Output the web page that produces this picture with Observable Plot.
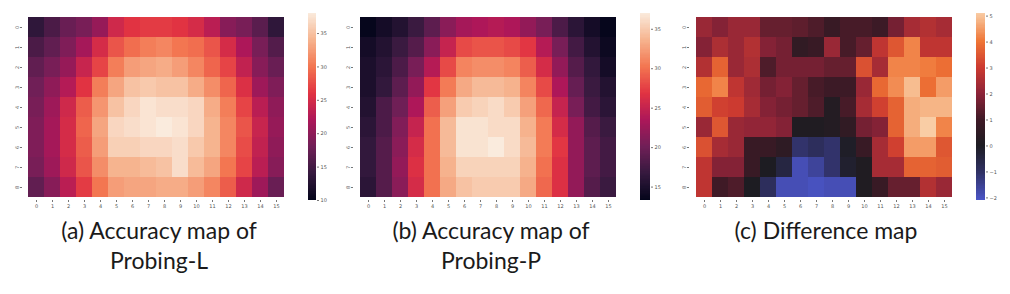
<!DOCTYPE html>
<html><head><meta charset="utf-8">
<script src="https://cdn.jsdelivr.net/npm/d3@7"></script>
<script src="https://cdn.jsdelivr.net/npm/@observablehq/plot@0.6"></script>
<style>
body{margin:0;background:#fff}
#root{position:relative;width:1010px;height:294px;overflow:hidden;background:#fff}
.abs{position:absolute;top:0}
.abs svg{overflow:visible;display:block}
.cap{position:absolute;font-family:Lato,"Open Sans",sans-serif;font-size:23px;color:#1a1a1a;text-align:center;line-height:30px;width:300px}
</style>
</head><body><div id="root"></div>
<script>
// categories
const cols = [0,1,2,3,4,5,6,7,8,9,10,11,12,13,14,15];
const rows = [0,1,2,3,4,5,6,7,8];

// (a) Accuracy map of Probing-L  (row-major, rows 0..8)
const accL = [
  [13.5,15.5,17.5,18.5,20.5,24.5,26,26.5,26.5,26,25,23,19.5,18.5,16.5,13.5],
  [15.5,17,19,21.5,25,28,29.5,30.5,31,30,29.5,28,25,22,18.5,16],
  [17,18.5,20.5,24,27,30.5,32.5,33,33.5,32.5,31,29,27,23.5,19.5,17.5],
  [18,20,22.5,26,30.5,33,35,35.5,35,35,33.5,31.5,29,25.5,21,19],
  [18.5,21,24.5,28.5,32,35,36.5,37.5,37,37,36.5,33.5,30.5,27,23,20],
  [19,21.5,25,29,33,36.5,37,37.5,38,37.5,36.5,34,31,28,24,20.5],
  [19,21.5,25,28.5,32.5,36,36,36.5,36.5,37,35.5,34,31,27.5,23.5,20],
  [18.5,21,24.5,28,31.5,34,34,34.5,35,37,34.5,33,30,27,23,19.5],
  [17,19.5,23,26.5,30,32.5,33,33,33.5,33.5,32.5,31,28.5,24.5,21,17.5]
];
// (b) Accuracy map of Probing-P
const accP = [
  [13.5,14.5,15.5,17,19,21.5,23,23.5,24,23.5,22,20.5,18,16,14.5,13.5],
  [14.5,15.5,17,18.5,21.5,25,28,28.5,28.5,28,27,24,20.5,17.5,15.5,14],
  [15,16,18,20.5,24,28,31,31.5,31.5,31,29,26,22,18.5,16.5,14.5],
  [15,16.5,19,22,27,30.5,33,34,34,33.5,31,28,23.5,19.5,17,15.5],
  [15.5,18,20,23.5,29,32.5,35,35.5,36,35,32.5,29.5,25,20.5,17.5,16],
  [16,18,21,25,30,34,36.5,36.5,36,36,33.5,30.5,26,22,18.5,17],
  [16.5,18.5,21.5,26,30,34,36.5,36.5,37,36,34,30.5,27,22,19,17.5],
  [16.5,18.5,22,26.5,30,33.5,35.5,35.5,35.5,35.5,33.5,30,26.5,22,19,17.5],
  [16,18.5,21.5,26,30,33,34.5,35,35,35,33,29.5,26.5,22,18.5,17]
];
// (c) Difference map
const diff = [
  [2.2,1.9,2.2,2.2,1.5,1.5,1.4,1.2,0.8,1.1,1.1,0.9,1.7,2.4,2.6,2.4],
  [1.9,2.5,2.2,2.6,1.9,1.7,0.6,0.8,2.2,1.1,1.5,2.8,3.5,4.2,2.8,2.8],
  [2.6,3.7,2.2,2.5,1.2,1.7,1.7,1.7,1.5,1.5,3.4,2.4,4.2,4.2,4.1,3.9],
  [3.8,4.2,2.8,2.3,1.7,1.9,1.5,1.1,0.9,0.9,2.2,3.8,4.3,4.9,3.9,4.5],
  [3.6,3.1,3.0,2.4,1.9,1.7,1.5,1.2,0.2,1.1,2.4,3.1,3.7,4.7,4.8,4.8],
  [2.2,3.5,2.2,2.1,2.1,1.9,0.1,0.1,0.2,0.6,1.7,1.9,3.7,4.7,5.1,4.2],
  [3.4,2.4,2.2,0.8,0.8,0.5,-1.1,-0.9,-1.1,-0.1,0.8,2.4,3.1,4.5,4.5,3.5],
  [2.8,1.9,1.9,0.8,0.0,-0.5,-1.9,-1.6,-1.1,-0.2,0.1,2.4,2.4,3.7,3.7,3.6],
  [2.8,1.0,1.2,0.0,-0.9,-1.9,-1.9,-2.0,-1.9,-1.9,0.1,0.8,1.5,1.5,2.6,2.2]
];

// colorbar ticks
const ticksL = [10,15,20,25,30,35];
const ticksP = [15,20,25,30,35];
const ticksD = [-2,-1,0,1,2,3,4,5];
const captions = [
  ["(a) Accuracy map of","Probing-L"],
  ["(b) Accuracy map of","Probing-P"],
  ["(c) Difference map"]
];

const rocketStops = ["#03051a","#35193e","#701f57","#ad1759","#e13342","#f37651","#f6b48f","#faebdd"];
const rocket = d3.piecewise(d3.interpolateRgb, rocketStops);
const colorL = {type:"linear", domain:[10,38], interpolate:rocket};
const colorP = {type:"linear", domain:[13.3,37], interpolate:rocket};
const colorD = {type:"linear", domain:[-2.1,-1,0,1,2,3,4,5.1],
  range:["#4b55c8","#2f3062","#1d1c22","#3f1a26","#8c2338","#cc3a30","#ef7434","#f9cda5"], interpolate:"rgb"};

const root = document.getElementById("root");

function tidy(m){
  const out=[];
  m.forEach((r,i)=>r.forEach((v,j)=>out.push({row:rows[i], col:cols[j], value:v})));
  return out;
}

function heatmap(values, color, left, ml, mr){
  const p = Plot.plot({
    width:300, height:215, marginLeft:ml, marginRight:mr, marginTop:13, marginBottom:15,
    style:{background:"transparent", fontFamily:"DejaVu Sans", fontSize:"5px", color:"#555"},
    x:{type:"band", domain:cols, padding:0, label:null, axis:null},
    y:{type:"band", domain:rows, padding:0, label:null, axis:null},
    color,
    marks:[
      Plot.cell(tidy(values), {x:"col", y:"row", fill:"value", inset:0, shapeRendering:"crispEdges"}),
      Plot.axisX({tickSize:2, tickPadding:2, stroke:"#777", fontSize:5, label:null}),
      Plot.axisY({tickSize:2, tickPadding:2, tickRotate:-90, stroke:"#777", fontSize:5, label:null})
    ]
  });
  const d=document.createElement("div"); d.className="abs"; d.style.left=left+"px"; d.appendChild(p); root.appendChild(d);
}

function colorbar(color, vmin, vmax, ticks, left, w, mr){
  const n=150, steps=[];
  for(let i=0;i<n;i++){ const a=vmin+(vmax-vmin)*i/n, b=vmin+(vmax-vmin)*(i+1)/n; steps.push({y1:a,y2:b,v:(a+b)/2}); }
  const p = Plot.plot({
    width:w, height:215, marginLeft:8, marginRight:mr, marginTop:13, marginBottom:15,
    style:{background:"transparent", fontFamily:"DejaVu Sans", fontSize:"5px", color:"#555"},
    x:{domain:[0,1], axis:null},
    y:{domain:[vmin,vmax], axis:null},
    color,
    marks:[
      Plot.rect(steps, {x1:0, x2:1, y1:"y1", y2:"y2", fill:"v", inset:0, insetTop:-0.3, shapeRendering:"crispEdges"}),
      Plot.axisY({anchor:"right", ticks, tickSize:2, tickPadding:2, stroke:"#777", fontSize:5, label:null})
    ]
  });
  const d=document.createElement("div"); d.className="abs"; d.style.left=left+"px"; d.appendChild(p); root.appendChild(d);
}

heatmap(accL, colorL, 0, 22, 10);
colorbar(colorL, 10, 38, ticksL, 300, 45, 29);
heatmap(accP, colorP, 330, 23, 7);
colorbar(colorP, 13.3, 37, ticksP, 632, 45, 27);
heatmap(diff, colorD, 666, 23, 7);
colorbar(colorD, -2.1, 5.1, ticksD, 968, 42, 25);

const centers=[159, 491, 826];
captions.forEach((lines,i)=>{
  const c=document.createElement("div"); c.className="cap";
  c.style.left=(centers[i]-150)+"px"; c.style.top="215px";
  c.innerHTML=lines.join("<br>");
  root.appendChild(c);
});
</script>
</body></html>
